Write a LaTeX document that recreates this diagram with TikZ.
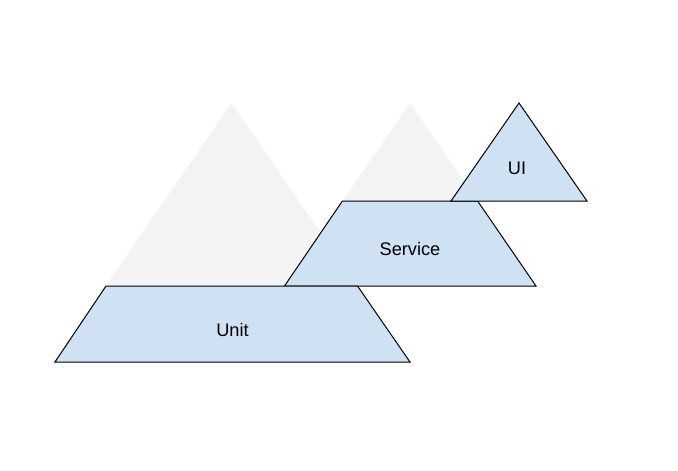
\documentclass[tikz,border=0pt]{standalone}
\usepackage{fontspec}
\setmainfont{Liberation Sans}
\definecolor{ghost}{HTML}{F3F3F3}
\definecolor{layer}{HTML}{CFE2F3}
\begin{document}
\begin{tikzpicture}[x=1pt,y=-1pt,
  ghostshape/.style={fill=ghost,draw=none},
  layershape/.style={fill=layer,draw=black,line width=1pt,line join=miter},
  lbl/.style={anchor=base,inner sep=0pt,font=\fontsize{18.2}{22}\selectfont}]
\useasboundingbox[fill=white] (0,0) rectangle (678,471);
% background (ghost) pyramids
\fill[ghostshape] (231.5,103) -- (53.5,362) -- (409.5,362) -- cycle;
\fill[ghostshape] (410,103) -- (284,286) -- (536,286) -- cycle;
% Service layer
\draw[layershape] (342.4,201) -- (477.6,201) -- (536,286) -- (284.5,286) -- cycle;
% Unit layer
\draw[layershape] (106,286) -- (357.5,286) -- (410,362) -- (55,362) -- cycle;
% UI layer
\draw[layershape] (519,103) -- (587,201) -- (451,201) -- cycle;
% labels
\node[lbl] (unit) at (232.5,336) {Unit};
\node[lbl] (service) at (410,255.6) {Service};
\node[lbl] (ui) at (517,174.3) {UI};
\end{tikzpicture}
\end{document}
